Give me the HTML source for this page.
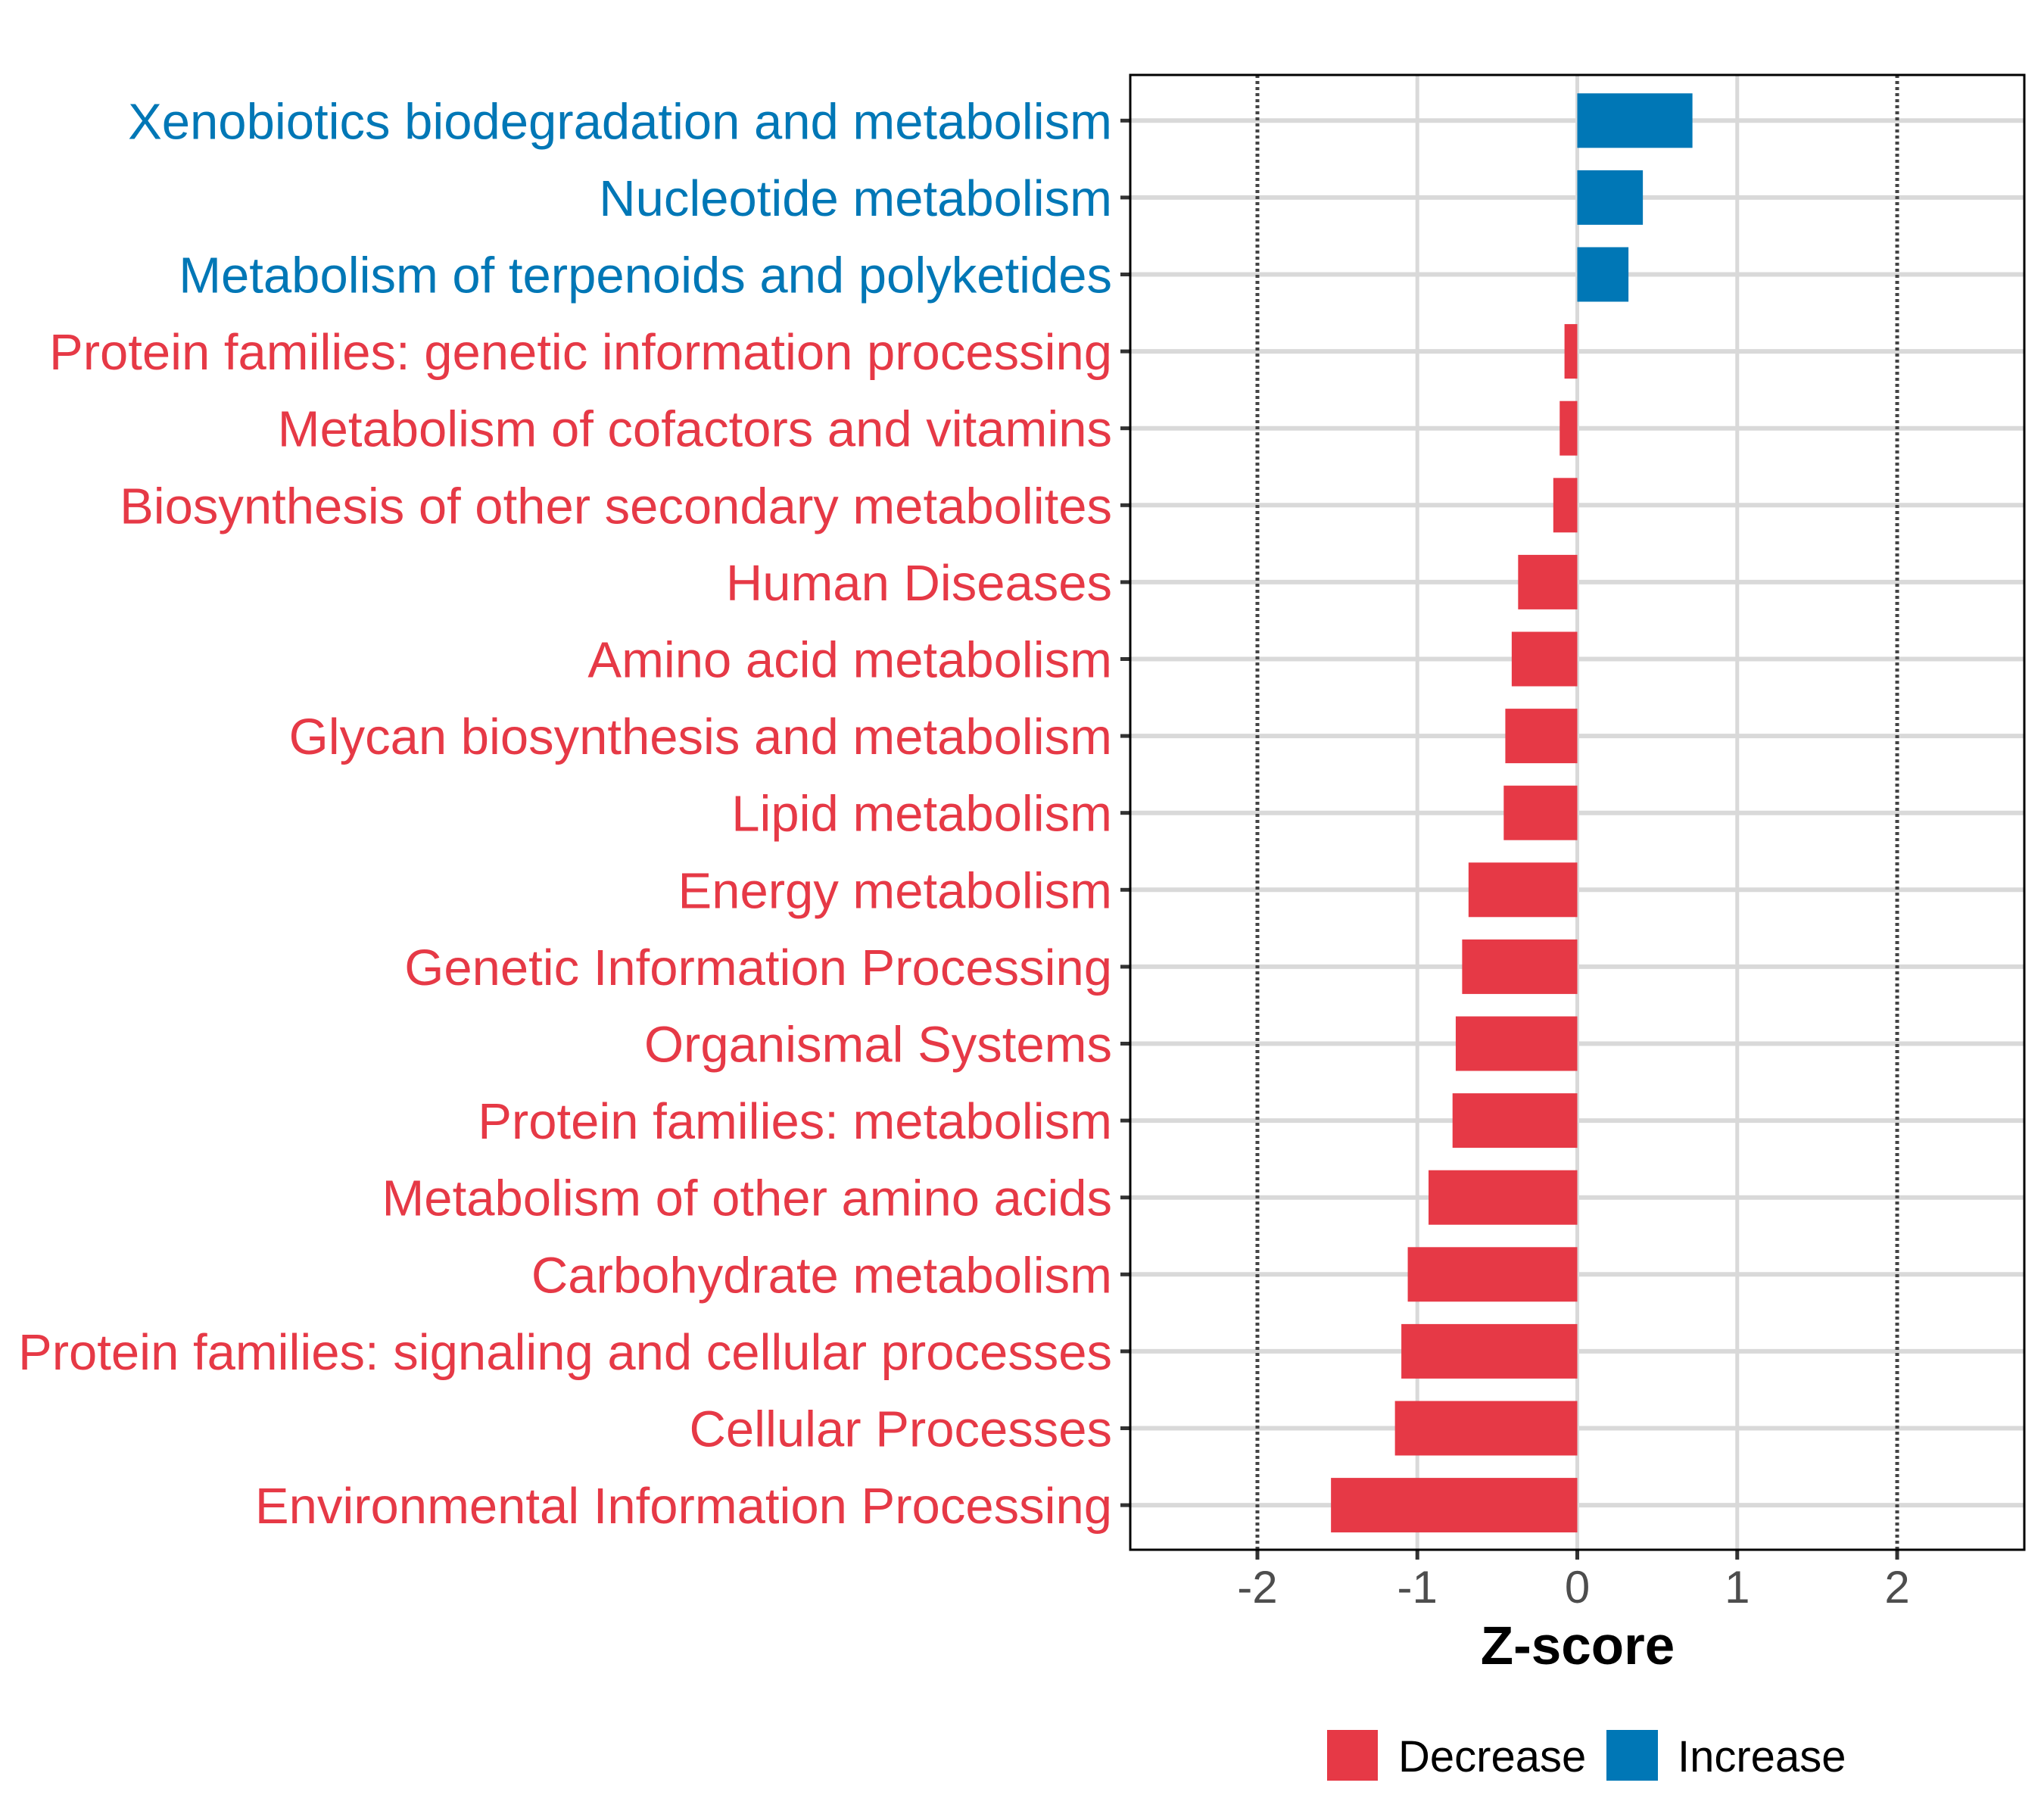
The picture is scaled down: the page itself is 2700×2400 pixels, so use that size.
<!DOCTYPE html>
<html><head><meta charset="utf-8"><style>
html,body{margin:0;padding:0;background:#fff;}
svg{display:block;font-family:"Liberation Sans",sans-serif;}
</style></head><body>
<svg id="chart" width="2700" height="2400" viewBox="0 0 2700 2400" xmlns="http://www.w3.org/2000/svg">
<rect x="0" y="0" width="2700" height="2400" fill="#fff"/>
<g id="grid"></g>
<g id="bars"></g>
<g id="ylabels"></g>
<g id="xaxis"></g>
<text x="2084" y="2198" font-size="71" font-weight="bold" text-anchor="middle" fill="#000">Z-score</text>
<g>
  <rect x="1753" y="2285" width="67" height="67" fill="#E63946"/>
  <text x="1847" y="2340" font-size="58" fill="#000">Decrease</text>
  <rect x="2122" y="2285" width="68" height="67" fill="#0077B6"/>
  <text x="2216" y="2340" font-size="58" fill="#000">Increase</text>
</g>
</svg>
<script>
const categories = ["Xenobiotics biodegradation and metabolism","Nucleotide metabolism","Metabolism of terpenoids and polyketides","Protein families: genetic information processing","Metabolism of cofactors and vitamins","Biosynthesis of other secondary metabolites","Human Diseases","Amino acid metabolism","Glycan biosynthesis and metabolism","Lipid metabolism","Energy metabolism","Genetic Information Processing","Organismal Systems","Protein families: metabolism","Metabolism of other amino acids","Carbohydrate metabolism","Protein families: signaling and cellular processes","Cellular Processes","Environmental Information Processing"];
const zscores = [0.72,0.41,0.32,-0.08,-0.11,-0.15,-0.37,-0.41,-0.45,-0.46,-0.68,-0.72,-0.76,-0.78,-0.93,-1.06,-1.10,-1.14,-1.54];
const xTicks = [-2,-1,0,1,2];
const xTickLabels = ["-2","-1","0","1","2"];
const refLines = [-2,2];

const NS="http://www.w3.org/2000/svg";
const PL=1493, PR=2674, PT=99, PB=2047;
const XMIN=-2.795, XMAX=2.795;
const x = v => PL + (v - XMIN)/(XMAX - XMIN)*(PR-PL);
const ROW0=159.3, ROWSTEP=101.6;
const y = i => ROW0 + i*ROWSTEP;
const RED="#E63946", BLUE="#0077B6";
function mk(tag, attrs, parent){const e=document.createElementNS(NS,tag);for(const k in attrs)e.setAttribute(k,attrs[k]);parent.appendChild(e);return e;}
const grid=document.getElementById('grid'), bars=document.getElementById('bars'), yl=document.getElementById('ylabels'), xa=document.getElementById('xaxis'), svg=document.getElementById('chart');

xTicks.forEach((t,i)=>{
  if(refLines.includes(t)) return;
  const l=mk('line',{x1:x(t),x2:x(t),y1:PT,y2:PB,stroke:'#d9d9d9','stroke-width':5},grid);
  
  
});
categories.forEach((c,i)=>{
  const l=mk('line',{x1:PL,x2:PR,y1:y(i),y2:y(i),stroke:'#d9d9d9','stroke-width':6},grid);
  
  
});
categories.forEach((c,i)=>{
  const v=zscores[i];
  const col=v>=0?BLUE:RED;
  const r=mk('rect',{x:Math.min(x(0),x(v)),y:y(i)-36,width:Math.abs(x(v)-x(0)),height:72,fill:col},bars);
  
  
  const t=mk('text',{x:1469,y:y(i)+24,'font-size':67,'text-anchor':'end',fill:col},yl);
  t.textContent=c;
  
  
  const tk=mk('line',{x1:1480,x2:PL,y1:y(i),y2:y(i),stroke:'#333','stroke-width':5},yl);
  
  
});
refLines.forEach(v=>{
  const l=mk('line',{x1:x(v),x2:x(v),y1:PT,y2:PB,stroke:'#444','stroke-width':5,'stroke-dasharray':'4 4'},grid);
  
  
});
const border=mk('rect',{x:PL,y:PT,width:PR-PL,height:PB-PT,fill:'none',stroke:'#000','stroke-width':3},svg);


xTicks.forEach((t,i)=>{
  const l=mk('line',{x1:x(t),x2:x(t),y1:PB,y2:PB+13,stroke:'#333','stroke-width':5},xa);
  
  
  const tx=mk('text',{x:x(t),y:2117,'font-size':60,'text-anchor':'middle',fill:'#4d4d4d'},xa);
  tx.textContent=xTickLabels[i];
  
  
});
</script>
</body></html>
